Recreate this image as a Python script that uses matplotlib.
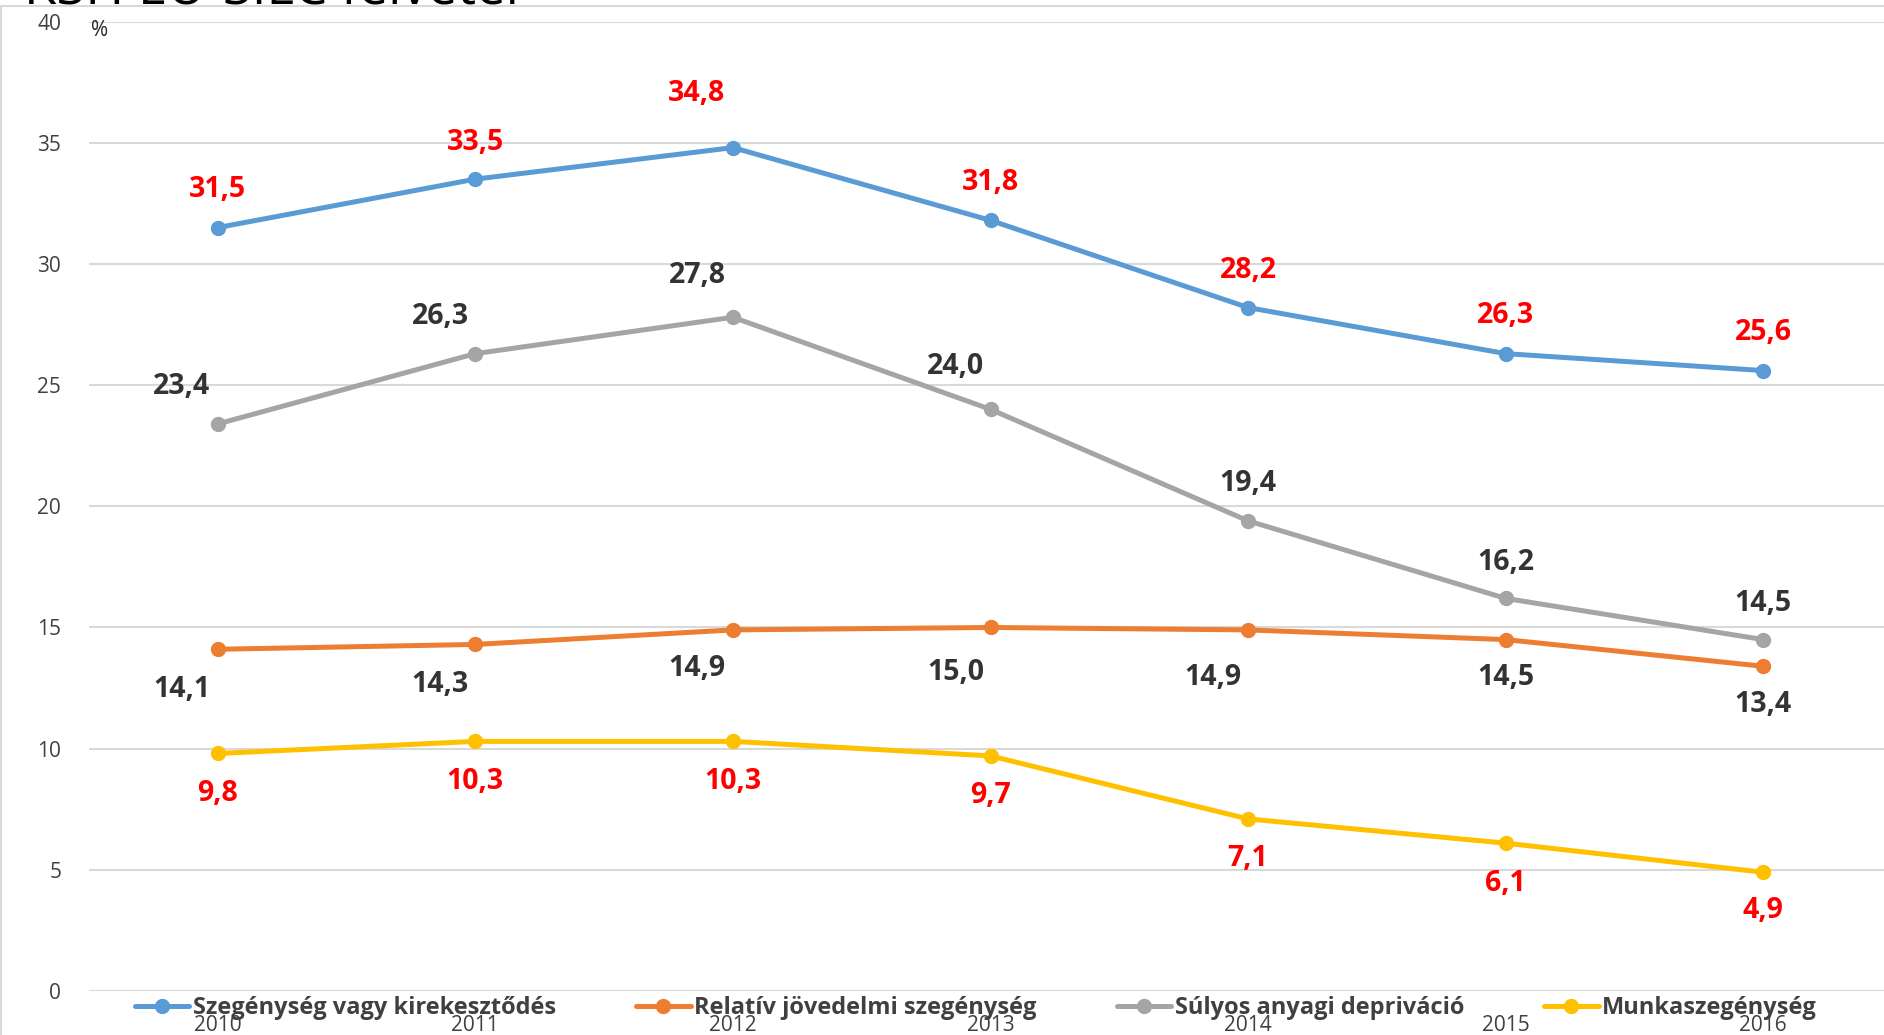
import matplotlib
matplotlib.use("Agg")
import matplotlib.pyplot as plt
from matplotlib.lines import Line2D

plt.rcParams['font.family'] = ['Open Sans', 'DejaVu Sans']

years = ["2010", "2011", "2012", "2013", "2014", "2015", "2016"]
szegenyseg = [31.5, 33.5, 34.8, 31.8, 28.2, 26.3, 25.6]
relativ = [14.1, 14.3, 14.9, 15.0, 14.9, 14.5, 13.4]
deprivacio = [23.4, 26.3, 27.8, 24.0, 19.4, 16.2, 14.5]
munka = [9.8, 10.3, 10.3, 9.7, 7.1, 6.1, 4.9]
series_names = ["Szegénység vagy kirekesztődés", "Relatív jövedelmi szegénység",
                "Súlyos anyagi depriváció", "Munkaszegénység"]
y_ticks = [0, 5, 10, 15, 20, 25, 30, 35, 40]

colors = ["#5B9BD5", "#ED7D31", "#A5A5A5", "#FFC000"]
label_colors = ["#FF0000", "#333333", "#333333", "#FF0000"]

# label offsets in pixels (dx, dy)
off_blue = [(0, 38), (0, 37), (-36, 54), (0, 38), (0, 37), (0, 38), (0, 38)]
off_orange = [(-36, -40), (-35, -40), (-36, -39), (-35, -45), (-35, -48), (0, -38), (0, -38)]
off_gray = [(-36, 37), (-35, 37), (-36, 42), (-35, 43), (0, 37), (0, 36), (0, 36)]
off_yellow = [(0, -40), (0, -40), (0, -40), (0, -40), (0, -40), (0, -40), (0, -38)]

W, H = 1884, 1035
fig = plt.figure(figsize=(W / 100, H / 100), dpi=100)
ax = fig.add_axes([89 / W, 1 - 991 / H, 1803 / W, (991 - 21.6) / H])

x = list(range(len(years)))
all_series = [szegenyseg, relativ, deprivacio, munka]
all_offs = [off_blue, off_orange, off_gray, off_yellow]

for vals, name, col, lcol, offs in zip(all_series, series_names, colors, label_colors, all_offs):
    ax.plot(x, vals, color=col, lw=3.6, marker='o', markersize=10, label=name,
            solid_capstyle='round', zorder=3, clip_on=False)
    for xi, v, (dx, dy) in zip(x, vals, offs):
        ax.annotate(f"{v:.1f}".replace('.', ','), (xi, v), xytext=(dx, dy),
                    textcoords='offset pixels', ha='center', va='center',
                    fontsize=20.5, fontweight='bold', color=lcol, zorder=4)

ax.set_xlim(-0.5, 6.5)
ax.set_ylim(0, 40)
ax.set_yticks(y_ticks)
ax.set_yticklabels([str(t) for t in y_ticks], fontsize=15, color="#404040")
ax.set_xticks(x)
ax.set_xticklabels(years, fontsize=15, color="#404040")
ax.tick_params(axis='y', length=0, pad=20)
ax.tick_params(axis='x', length=0, pad=17)
ax.grid(axis='y', color="#D9D9D9", lw=1.5)
ax.set_axisbelow(True)
for s in ax.spines.values():
    s.set_visible(False)

fig.text(100 / W, 1 - 30 / H, "%", fontsize=15, color="#262626", ha='center', va='center')

# partial title at the top edge (cut off in the original as well)
fig.text(24 / W, 1 - 4 / H, "KSH EU-SILC felvétel", fontsize=38, color="black",
         ha='left', va='baseline')

# chart border
fig.add_artist(Line2D([1 / W, 1.0], [1 - 6 / H, 1 - 6 / H], color="#D9D9D9", lw=1.5,
                      transform=fig.transFigure))
fig.add_artist(Line2D([1 / W, 1 / W], [0, 1 - 6 / H], color="#D9D9D9", lw=1.5,
                      transform=fig.transFigure))

leg = fig.legend(loc='center', bbox_to_anchor=(976 / W, 1 - 1008 / H), ncol=4,
                 frameon=False, handlelength=2.3, handletextpad=0.15, columnspacing=3.4,
                 prop={'size': 17, 'weight': 'bold'}, borderpad=0)
for t in leg.get_texts():
    t.set_color("#404040")

fig.savefig("out.png", dpi=100)
